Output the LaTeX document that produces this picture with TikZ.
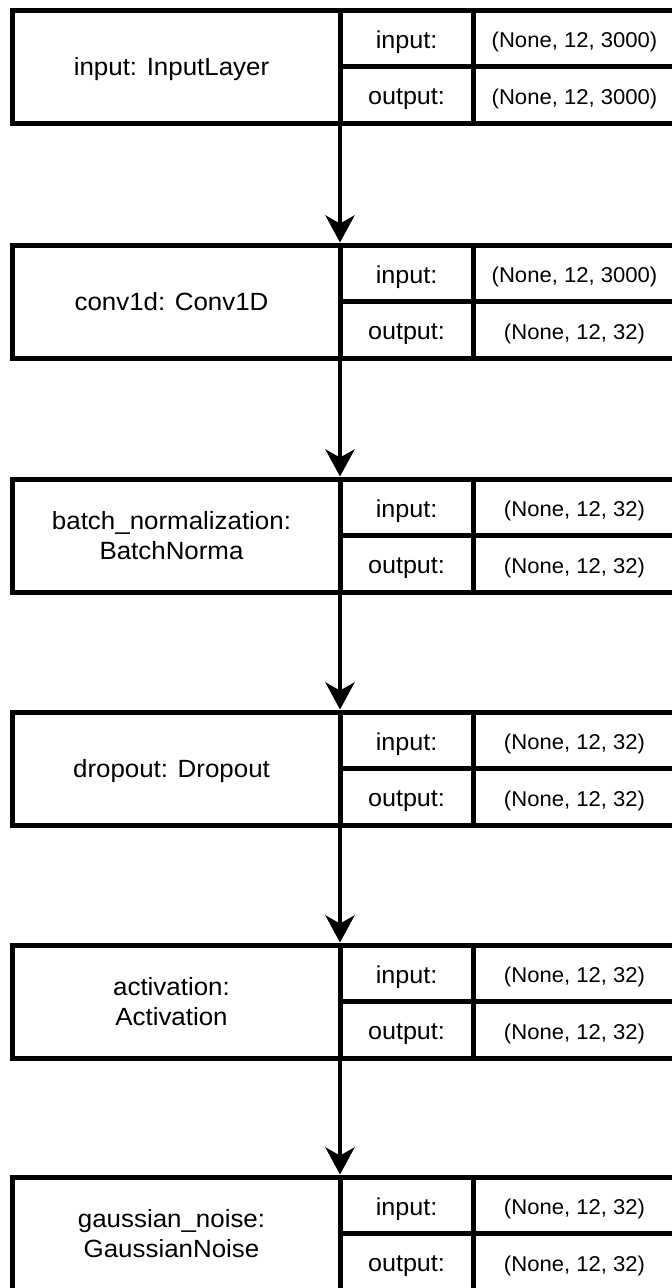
\documentclass[tikz,border=0pt]{standalone}
\usepackage{fontspec}
\setmainfont{Liberation Sans}
\usepackage{graphicx}
\usetikzlibrary{arrows.meta}
\newcommand{\lx}[1]{\raisebox{-3bp}[\height][\depth]{\scalebox{1.04}[1]{#1}}}
\newcommand{\vx}[1]{\raisebox{-4bp}[\height][\depth]{\scalebox{1.03}[1]{#1}}}
\newcommand{\layerblock}[5]{%
  \node[lab] (l#1) at (176.5,{#2+56.5}) {\hspace*{-10bp}\begin{tabular}{@{}c@{}}#3\end{tabular}};
  \node[io] (mi#1) at (406.5,{#2+28.25}) {\vx{input:}};
  \node[io] (mo#1) at (406.5,{#2+84.75}) {\vx{output:}};
  \node[val] (vi#1) at (574.5,{#2+28.25}) {\vx{#4}};
  \node[val] (vo#1) at (574.5,{#2+84.75}) {\vx{#5}};
}
\begin{document}
\begin{tikzpicture}[x=1bp,y=-1bp,
  cell/.style={draw=black, line width=5bp, inner sep=0pt, outer sep=0pt, text=black},
  lab/.style={cell, minimum width=327bp, minimum height=113bp, font=\fontsize{25}{29.5}\selectfont},
  io/.style={cell, minimum width=133bp, minimum height=56.5bp, font=\fontsize{24.5}{28}\selectfont},
  val/.style={cell, minimum width=203bp, minimum height=56.5bp, font=\fontsize{21.5}{25}\selectfont},
  arr/.style={line width=4.5bp, -{Stealth[length=27bp,width=29bp,inset=8bp]}, shorten >=2.5bp}]
\useasboundingbox (0,0) rectangle (672,1288);
\clip (0,0) rectangle (672,1288);
\layerblock{1}{10}{\lx{input: InputLayer}}{(None, 12, 3000)}{(None, 12, 3000)}
\layerblock{2}{245}{\lx{conv1d: Conv1D}}{(None, 12, 3000)}{(None, 12, 32)}
\layerblock{3}{479}{\lx{batch\_normalization:}\\\lx{BatchNorma}}{(None, 12, 32)}{(None, 12, 32)}
\layerblock{4}{712}{\lx{dropout: Dropout}}{(None, 12, 32)}{(None, 12, 32)}
\layerblock{5}{945}{\lx{activation:}\\\lx{Activation}}{(None, 12, 32)}{(None, 12, 32)}
\layerblock{6}{1177}{\lx{gaussian\_noise:}\\\lx{GaussianNoise}}{(None, 12, 32)}{(None, 12, 32)}
\foreach \a/\b in {1/2,2/3,3/4,4/5,5/6}
  \draw[arr] (l\a.south east) -- (l\b.north east);
\end{tikzpicture}
\end{document}
